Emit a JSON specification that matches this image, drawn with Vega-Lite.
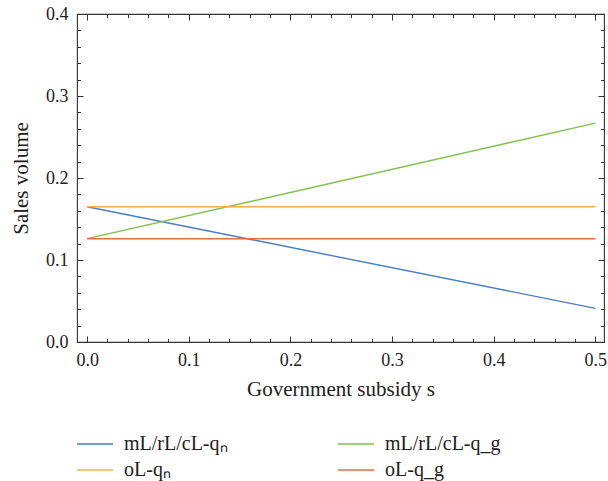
{
  "$schema": "https://vega.github.io/schema/vega-lite/v6.json",
  "width": 527,
  "height": 328,
  "autosize": {"type": "none"},
  "padding": {"left": 77, "top": 14, "right": 4, "bottom": 139},
  "background": "white",
  "data": {
    "values": [
      {"series": "mL/rL/cL-qₙ", "s": 0.0, "v": 0.165},
      {"series": "mL/rL/cL-qₙ", "s": 0.5, "v": 0.041},
      {"series": "mL/rL/cL-q_g", "s": 0.0, "v": 0.126},
      {"series": "mL/rL/cL-q_g", "s": 0.5, "v": 0.267},
      {"series": "oL-qₙ", "s": 0.0, "v": 0.165},
      {"series": "oL-qₙ", "s": 0.5, "v": 0.165},
      {"series": "oL-q_g", "s": 0.0, "v": 0.126},
      {"series": "oL-q_g", "s": 0.5, "v": 0.126}
    ]
  },
  "layer": [
    {
      "mark": {"type": "line", "strokeWidth": 1.4},
      "encoding": {
        "x": {
          "field": "s", "type": "quantitative",
          "scale": {"domain": [-0.01, 0.5085], "nice": false, "zero": false},
          "axis": {
            "orient": "bottom", "values": [0, 0.1, 0.2, 0.3, 0.4, 0.5], "format": ".1f",
            "tickSize": -6, "labelPadding": 15, "labelFlush": false,
            "title": "Government subsidy s", "titleY": 53, "titleBaseline": "alphabetic"
          }
        },
        "y": {
          "field": "v", "type": "quantitative",
          "scale": {"domain": [0, 0.4], "nice": false, "zero": false},
          "axis": {
            "orient": "left", "values": [0, 0.1, 0.2, 0.3, 0.4], "format": ".1f",
            "tickSize": -6, "labelPadding": 15, "labelFlush": false,
            "title": "Sales volume", "titleX": -50, "titleY": 164, "titleAngle": 270,
            "titleAlign": "center", "titleBaseline": "alphabetic"
          }
        },
        "color": {
          "field": "series", "type": "nominal",
          "scale": {
            "domain": ["mL/rL/cL-qₙ", "oL-qₙ", "mL/rL/cL-q_g", "oL-q_g"],
            "range": ["#4A7DC0", "#F6B044", "#7FC04B", "#EF6A45"]
          },
          "legend": {
            "title": null, "orient": "none", "legendX": 8, "legendY": 420,
            "columns": 2, "symbolType": "M-2,0H2", "symbolSize": 324, "symbolStrokeWidth": 1.5,
            "labelOffset": 19, "columnPadding": 107, "rowPadding": 6, "padding": 0,
            "labelFont": "Liberation Serif", "labelFontSize": 20, "labelColor": "#222",
            "labelLimit": 300
          }
        }
      }
    },
    {
      "mark": {"type": "line", "opacity": 0},
      "encoding": {
        "x": {
          "field": "s", "type": "quantitative",
          "scale": {"domain": [-0.01, 0.5085], "nice": false, "zero": false},
          "axis": {
            "orient": "bottom", "labels": false, "title": null, "tickSize": -3.5,
            "values": [0.02,0.04,0.06,0.08,0.12,0.14,0.16,0.18,0.22,0.24,0.26,0.28,0.32,0.34,0.36,0.38,0.42,0.44,0.46,0.48]
          }
        },
        "y": {
          "field": "v", "type": "quantitative",
          "scale": {"domain": [0, 0.4], "nice": false, "zero": false},
          "axis": {
            "orient": "left", "labels": false, "title": null, "tickSize": -3.5,
            "values": [0.02,0.04,0.06,0.08,0.12,0.14,0.16,0.18,0.22,0.24,0.26,0.28,0.32,0.34,0.36,0.38]
          }
        }
      }
    },
    {
      "mark": {"type": "line", "opacity": 0},
      "encoding": {
        "x": {
          "field": "s", "type": "quantitative",
          "scale": {"domain": [-0.01, 0.5085], "nice": false, "zero": false},
          "axis": {
            "orient": "top", "labels": false, "title": null, "tickSize": -6,
            "values": [0, 0.1, 0.2, 0.3, 0.4, 0.5]
          }
        },
        "y": {
          "field": "v", "type": "quantitative",
          "scale": {"domain": [0, 0.4], "nice": false, "zero": false},
          "axis": {
            "orient": "right", "labels": false, "title": null, "tickSize": -6,
            "values": [0, 0.1, 0.2, 0.3, 0.4]
          }
        }
      }
    },
    {
      "mark": {"type": "line", "opacity": 0},
      "encoding": {
        "x": {
          "field": "s", "type": "quantitative",
          "scale": {"domain": [-0.01, 0.5085], "nice": false, "zero": false},
          "axis": {
            "orient": "top", "labels": false, "title": null, "tickSize": -3.5,
            "values": [0.02,0.04,0.06,0.08,0.12,0.14,0.16,0.18,0.22,0.24,0.26,0.28,0.32,0.34,0.36,0.38,0.42,0.44,0.46,0.48]
          }
        },
        "y": {
          "field": "v", "type": "quantitative",
          "scale": {"domain": [0, 0.4], "nice": false, "zero": false},
          "axis": {
            "orient": "right", "labels": false, "title": null, "tickSize": -3.5,
            "values": [0.02,0.04,0.06,0.08,0.12,0.14,0.16,0.18,0.22,0.24,0.26,0.28,0.32,0.34,0.36,0.38]
          }
        }
      }
    }
  ],
  "resolve": {"axis": {"x": "independent", "y": "independent"}},
  "config": {
    "view": {"stroke": "#333", "strokeWidth": 1.1},
    "axis": {
      "grid": false, "domain": false,
      "tickColor": "#333", "tickWidth": 1,
      "labelFont": "Liberation Serif", "labelFontSize": 18, "labelColor": "#222",
      "titleFont": "Liberation Serif", "titleFontSize": 21, "titleFontWeight": "normal", "titleColor": "#222"
    }
  }
}
